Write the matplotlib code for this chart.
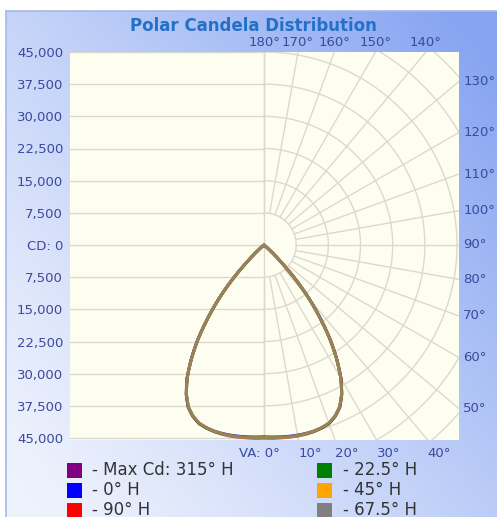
import numpy as np
import matplotlib
matplotlib.use("Agg")
import matplotlib.pyplot as plt
from matplotlib.lines import Line2D
from matplotlib.patches import Rectangle

# ---------------- data ----------------
vertical_angles = [0, 2.5, 5, 7.5, 10, 12.5, 15, 17.5, 20, 22.5, 25, 27.5, 30, 32.5,
                   35, 37.5, 40, 42.5, 45, 47.5, 50, 52.5, 55, 60, 70, 80, 90]
cd_max_315 = [45000, 45100, 45150, 45200, 45250, 45200, 45050, 44750, 44300, 43300, 41800, 39300, 35900, 31600,
              26900, 21600, 16400, 11000, 5600, 2300, 600, 0, 0, 0, 0, 0, 0]
cd_0 = [44700, 44800, 44900, 44950, 45000, 45000, 44900, 44650, 44200, 43200, 41700, 39200, 35800, 31500,
        26800, 21500, 16300, 10900, 5500, 2200, 500, 0, 0, 0, 0, 0, 0]
cd_90 = [44900, 45000, 45050, 45100, 45100, 45050, 44950, 44700, 44250, 43250, 41750, 39250, 35850, 31550,
         26850, 21550, 16350, 10950, 5550, 2250, 550, 0, 0, 0, 0, 0, 0]
cd_22_5 = [44800, 44850, 44950, 45050, 45150, 45100, 45000, 44750, 44300, 43250, 41700, 39200, 35800, 31500,
           26800, 21500, 16300, 10900, 5500, 2200, 500, 0, 0, 0, 0, 0, 0]
cd_45 = [44850, 44950, 45100, 45150, 45200, 45100, 44950, 44650, 44150, 43150, 41650, 39150, 35750, 31450,
         26750, 21450, 16250, 10850, 5450, 2150, 450, 0, 0, 0, 0, 0, 0]
cd_67_5 = [44950, 44950, 45000, 45050, 45100, 45050, 44900, 44700, 44200, 43200, 41700, 39200, 35800, 31500,
           26800, 21500, 16300, 10900, 5500, 2200, 500, 0, 0, 0, 0, 0, 0]

series_labels = ["- Max Cd: 315\u00b0 H", "- 0\u00b0 H", "- 90\u00b0 H",
                 "- 22.5\u00b0 H", "- 45\u00b0 H", "- 67.5\u00b0 H"]
series_colors = ["#800080", "#0000ff", "#ff0000", "#008000", "#ffa500", "#808080"]
series_values = [cd_max_315, cd_0, cd_90, cd_22_5, cd_45, cd_67_5]

cd_ticks = [45000, 37500, 30000, 22500, 15000, 7500, 0, -7500, -15000, -22500, -30000, -37500, -45000]
top_angles = [180, 170, 160, 150, 140]
right_angles = [130, 120, 110, 100, 90, 80, 70, 60, 50]
bottom_angles = [40, 30, 20, 10]
title = "Polar Candela Distribution"

# ---------------- figure ----------------
W, H = 497, 517
fig = plt.figure(figsize=(W / 100, H / 100), dpi=100)
fig.patch.set_facecolor("white")

def fx(px):
    return px / W

def fy(py):
    return 1 - py / H

# gradient background panel
bg = fig.add_axes([fx(6), 0, 1 - fx(6), fy(11)], zorder=-10)
nx, ny = 200, 200
xf = np.linspace(0, 1, nx)[None, :]
yf = np.linspace(0, 1, ny)[:, None]
t = np.clip(0.6 * xf + 0.5 * (1 - yf) - 0.05, 0, 1) ** 1.2
light = np.array([238, 242, 253]) / 255.0
blue = np.array([134, 164, 241]) / 255.0
img = light[None, None, :] * (1 - t[..., None]) + blue[None, None, :] * t[..., None]
bg.imshow(img, aspect="auto", extent=[0, 1, 0, 1], origin="upper")
bg.set_xlim(0, 1)
bg.set_ylim(0, 1)
bg.axis("off")
fig.add_artist(Line2D([fx(6), fx(6)], [0, fy(11)], color="#a7b8e6", lw=1.2))
fig.add_artist(Line2D([fx(6), 1], [fy(11), fy(11)], color="#a7b8e6", lw=1.2))

# Cartesian grid axes
cx, cy = 264, 245
k = 45000 / 193.0
L, R, T, B = 70, 459, 52, 440
ax = fig.add_axes([fx(L), fy(B), fx(R) - fx(L), fy(T) - fy(B)])
ax.set_xlim((L - cx) * k, (R - cx) * k)
ax.set_ylim((cy - B) * k, (cy - T) * k)
ax.set_facecolor("#fefef0")
for s in ax.spines.values():
    s.set_visible(False)
xmin, xmax = ax.get_xlim()
ymin, ymax = ax.get_ylim()
gcol = "#d9d9cf"
glw = 1.0
for v in cd_ticks:
    ax.plot([xmin, 0], [v, v], color=gcol, lw=glw, zorder=1)
ax.plot([0, 0], [ymin, ymax], color=gcol, lw=glw, zorder=1)
phi = np.linspace(-np.pi / 2, np.pi / 2, 400)
for m in range(1, 10):
    r = 7500 * m
    ax.plot(r * np.cos(phi), r * np.sin(phi), color=gcol, lw=glw, zorder=1)
for a in range(0, 181, 10):
    th = np.radians(a)
    ax.plot([7500 * np.sin(th), 100000 * np.sin(th)],
            [-7500 * np.cos(th), -100000 * np.cos(th)], color=gcol, lw=glw, zorder=1)

lab_col = "#3a4a9e"
fs_tick = 9.5
ax.set_xticks([])
ax.set_yticks(cd_ticks)
ax.set_yticklabels(["CD: 0" if v == 0 else f"{abs(v):,}" for v in cd_ticks])
ax.tick_params(axis="y", length=0, pad=5, labelsize=fs_tick, labelcolor=lab_col)

for a in top_angles:
    x = ymax * np.tan(np.radians(180 - a))
    ax.annotate(f"{a}\u00b0", (x, ymax), xytext=(0, 6.5), textcoords="offset points",
                ha="center", va="center", fontsize=fs_tick, color=lab_col, annotation_clip=False)
for a in right_angles:
    th = np.radians(a)
    y = -xmax * np.cos(th) / np.sin(th)
    ax.annotate(f"{a}\u00b0", (xmax, y), xytext=(3, 0), textcoords="offset points",
                ha="left", va="center", fontsize=fs_tick, color=lab_col, annotation_clip=False)
for a in bottom_angles:
    th = np.radians(a)
    x = -ymin * np.tan(th)
    ax.annotate(f"{a}\u00b0", (x, ymin), xytext=(0, -10), textcoords="offset points",
                ha="left", va="center", fontsize=fs_tick, color=lab_col, annotation_clip=False)
ax.annotate("VA: 0\u00b0", (0, ymin), xytext=(11, -10), textcoords="offset points",
            ha="right", va="center", fontsize=fs_tick, color=lab_col, annotation_clip=False)

# polar axes for the candela curves
rad = 193
axp = fig.add_axes([fx(cx - rad), fy(cy + rad), fx(2 * rad), 2 * rad / H], projection="polar")
axp.set_theta_zero_location("S")
axp.set_theta_direction(1)
axp.set_rlim(0, 45000)
axp.patch.set_alpha(0)
axp.axis("off")
va_rad = np.radians(vertical_angles)
theta_full = np.concatenate([-va_rad[::-1], va_rad[1:]])
for vals, col in zip(series_values, series_colors):
    v = np.asarray(vals, dtype=float)
    r_full = np.concatenate([v[::-1], v[1:]])
    ln, = axp.plot(theta_full, r_full, color=col, lw=2.1, alpha=0.7, clip_on=False,
                   solid_joinstyle="round")
    ln.get_path()._interpolation_steps = 20

fig.text(fx(253), fy(31), title, ha="center", va="baseline", fontsize=12,
         fontweight="bold", color="#2470c6")

sq = 15
rows = [470, 490, 510]
cols = [(67, 92), (317, 343)]
for i, (lab, col) in enumerate(zip(series_labels, series_colors)):
    c = i // 3
    rw = i % 3
    sx, tx = cols[c]
    yc = rows[rw]
    fig.add_artist(Rectangle((fx(sx), fy(yc + sq / 2)), sq / W, sq / H,
                             transform=fig.transFigure, facecolor=col, edgecolor="none"))
    fig.text(fx(tx), fy(yc), lab, ha="left", va="center", fontsize=12, color="#333333")

fig.savefig("out.png", dpi=100)
